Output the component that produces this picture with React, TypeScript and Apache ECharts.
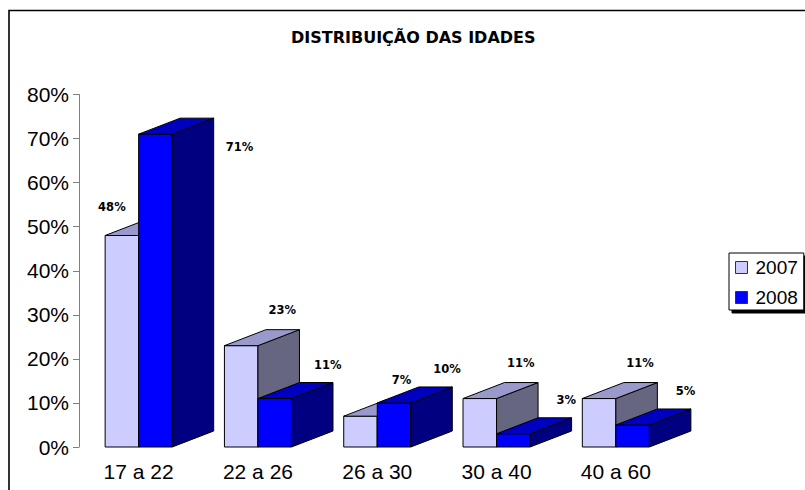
import React, { useEffect, useRef } from "react";
import * as echarts from "echarts";

// ---- data ----
const categories = ["17 a 22", "22 a 26", "26 a 30", "30 a 40", "40 a 60"];
const values2007 = [48, 23, 7, 11, 11];
const values2008 = [71, 11, 10, 3, 5];
const seriesNames = ["2007", "2008"];
const yMin = 0;
const yMax = 80;
const yInterval = 10;
const chartTitle = "DISTRIBUIÇÃO DAS IDADES";

// ---- styles ----
const FONT = "Liberation Sans";
const BOLD_FONT = "DejaVu Sans";
const FACES = [
  { front: "#CCCCFF", top: "#9999CC", side: "#666680" },
  { front: "#0000FF", top: "#0000C0", side: "#000080" },
];
const BAR_FRAC = 0.281; // front face width as fraction of band
const DEPTH_X = 0.348; // depth offset (x) as fraction of band
const DEPTH_Y = 0.134; // depth offset (y) as fraction of band

const allValues = [values2007, values2008];

function makeRender(s: number) {
  return (params: any, api: any) => {
    const idx = api.value(0);
    const val = api.value(1);
    const base = api.coord([idx, 0]);
    const top = api.coord([idx, val]);
    const band = api.size([1, 0])[0];
    const bw = band * BAR_FRAC;
    const dx = band * DEPTH_X;
    const dy = -band * DEPTH_Y;
    const x0 = s === 0 ? base[0] - bw : base[0];
    const x1 = x0 + bw;
    const yb = base[1];
    const yt = top[1];
    const f = FACES[s];
    const stroke = { stroke: "#000", lineWidth: 1 };

    const cx = x0 + bw / 2;
    let lx: number;
    let ly: number;
    if (s === 0) {
      lx = cx + 41;
      ly = yt - 36;
      const other = api.coord([idx, allValues[1][idx]])[1];
      if (other < ly + 10) {
        lx = cx - 10;
        ly = yt - 29;
      }
    } else {
      lx = cx + 53;
      ly = yt - 34;
      const gridTop = api.coord([idx, yMax])[1];
      if (ly < gridTop + 10) {
        lx = cx + 84;
        ly = yt + 13;
      }
    }

    return {
      type: "group",
      children: [
        {
          type: "polygon",
          shape: { points: [[x0, yb], [x1, yb], [x1, yt], [x0, yt]] },
          style: { fill: f.front, ...stroke },
        },
        {
          type: "polygon",
          shape: { points: [[x1, yb], [x1 + dx, yb + dy], [x1 + dx, yt + dy], [x1, yt]] },
          style: { fill: f.side, ...stroke },
        },
        {
          type: "polygon",
          shape: { points: [[x0, yt], [x1, yt], [x1 + dx, yt + dy], [x0 + dx, yt + dy]] },
          style: { fill: f.top, ...stroke },
        },
        {
          type: "text",
          x: lx,
          y: ly,
          style: {
            text: Math.round(val) + "%",
            fill: "#000",
            font: `bold 11.5px "${BOLD_FONT}"`,
            align: "center",
            verticalAlign: "middle",
          },
        },
      ],
    };
  };
}

export default function App() {
  const ref = useRef<HTMLDivElement>(null);
  useEffect(() => {
    document.body.style.margin = "0";
    if (!ref.current) return;
    const chart = echarts.init(ref.current, undefined, { renderer: "svg" });
    chart.setOption({
      animation: false,
      backgroundColor: "#fff",
      title: {
        text: chartTitle,
        left: 291,
        top: 29,
        padding: 0,
        textStyle: { fontFamily: BOLD_FONT, fontWeight: "bold", fontSize: 16, color: "#000" },
      },
      legend: {
        data: seriesNames,
        orient: "vertical",
        left: 729,
        top: 253,
        padding: [5, 6, 3, 6],
        itemGap: 11,
        itemWidth: 12,
        itemHeight: 12,
        icon: "rect",
        backgroundColor: "#fff",
        borderColor: "#000",
        borderWidth: 1,
        shadowColor: "#000",
        shadowBlur: 0,
        shadowOffsetX: 3,
        shadowOffsetY: 3,
        itemStyle: { borderColor: "#333", borderWidth: 1 },
        textStyle: { fontFamily: FONT, fontSize: 19, color: "#000", padding: [0, 0, 0, 3] },
      },
      graphic: [
        {
          type: "rect",
          silent: true,
          z: -10,
          shape: { x: 9, y: 10.5, width: 1000, height: 1000 },
          style: { fill: "none", stroke: "#000", lineWidth: 1.6 },
        },
      ],
      grid: { left: 79, right: 129.5, top: 94.5, bottom: 43, containLabel: false },
      xAxis: {
        type: "category",
        data: categories,
        axisLine: { show: false },
        axisTick: { show: false },
        axisLabel: { fontFamily: FONT, fontSize: 21, color: "#000", margin: 13.5 },
      },
      yAxis: {
        type: "value",
        min: yMin,
        max: yMax,
        interval: yInterval,
        axisLine: { show: true, lineStyle: { color: "#808080", width: 1 } },
        axisTick: { show: true, length: 6, lineStyle: { color: "#808080" } },
        axisLabel: { formatter: "{value}%", fontFamily: FONT, fontSize: 21, color: "#000", margin: 10 },
        splitLine: { show: false },
      },
      series: [0, 1].map((s) => ({
        type: "custom",
        name: seriesNames[s],
        coordinateSystem: "cartesian2d",
        data: allValues[s].map((v, i) => [i, v]),
        encode: { x: 0, y: 1 },
        itemStyle: { color: FACES[s].front, borderColor: "#000" },
        clip: false,
        renderItem: makeRender(s),
      })),
    });
    return () => chart.dispose();
  }, []);
  return <div ref={ref} style={{ width: 805, height: 490, overflow: "hidden" }} />;
}
